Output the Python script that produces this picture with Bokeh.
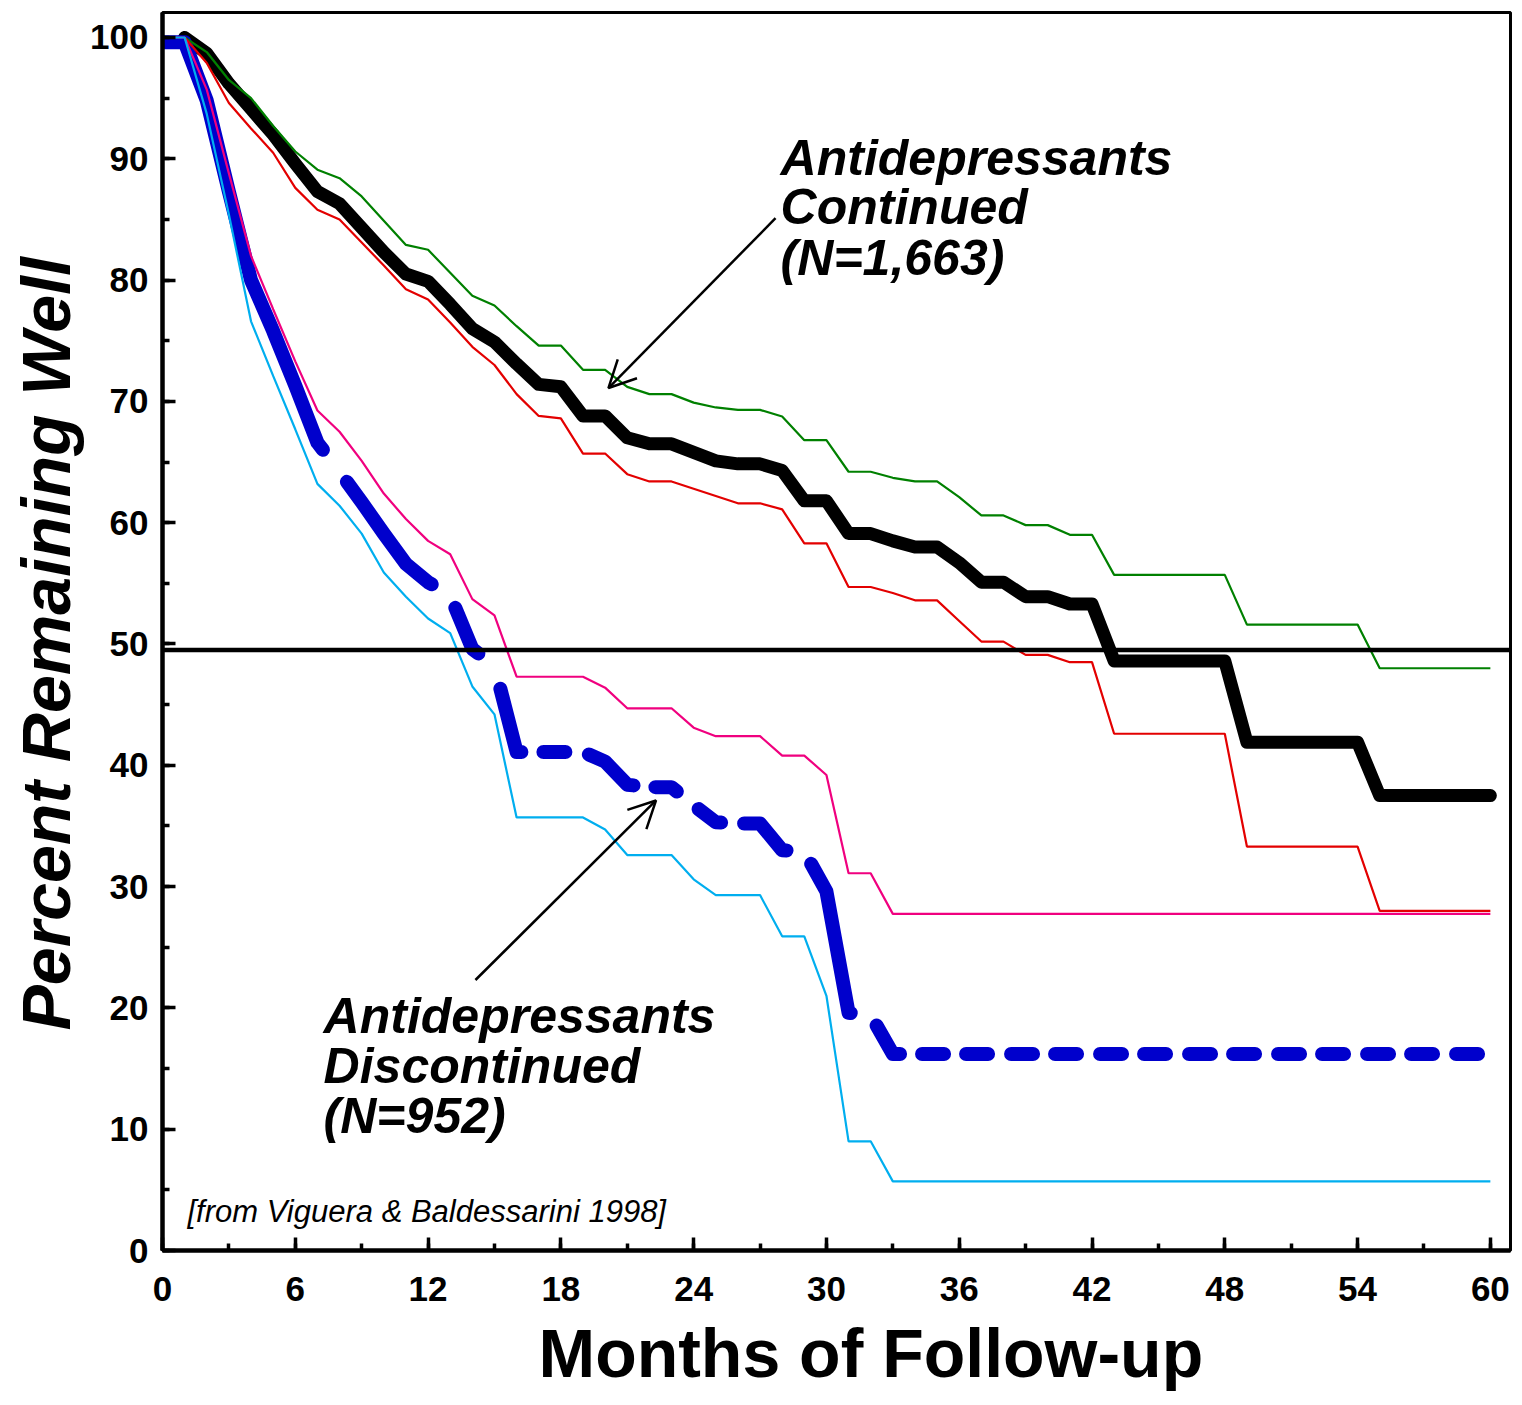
from bokeh.plotting import figure
from bokeh.models import Range1d, SingleIntervalTicker, Label, Span, Arrow, OpenHead, Title
from bokeh.embed import file_html
from bokeh.resources import INLINE

# ---------------- data ----------------
months_cont = list(range(1, 61))
months_disc = list(range(0, 61))
x_ticks_interval = 6
y_ticks_interval = 10
median_level = 49.5

cont_mean = [100, 98.7, 96.2, 94.1, 92.0, 89.6, 87.3, 86.3, 84.3, 82.3,
             80.5, 79.9, 78.0, 76.0, 74.9, 73.1, 71.4, 71.2, 68.8, 68.8,
             67.0, 66.5, 66.5, 65.8, 65.1, 64.85, 64.85, 64.3, 61.8, 61.8,
             59.1, 59.1, 58.5, 58.0, 58.0, 56.7, 55.1, 55.1, 53.9, 53.9,
             53.3, 53.3, 48.6, 48.6, 48.6, 48.6, 48.6, 48.6, 41.9, 41.9,
             41.9, 41.9, 41.9, 41.9, 37.5, 37.5, 37.5, 37.5, 37.5, 37.5]

cont_upper = [100, 98.8, 96.5, 95.0, 92.7, 90.6, 89.1, 88.4, 86.9, 84.9,
              82.9, 82.5, 80.6, 78.7, 77.9, 76.2, 74.6, 74.6, 72.6, 72.6,
              71.2, 70.6, 70.6, 69.9, 69.5, 69.3, 69.3, 68.75, 66.8, 66.8,
              64.2, 64.2, 63.7, 63.4, 63.4, 62.1, 60.6, 60.6, 59.8, 59.8,
              59.0, 59.0, 55.7, 55.7, 55.7, 55.7, 55.7, 55.7, 51.6, 51.6,
              51.6, 51.6, 51.6, 51.6, 48.0, 48.0, 48.0, 48.0, 48.0, 48.0]

cont_lower = [100, 97.9, 94.6, 92.5, 90.5, 87.6, 85.8, 85.0, 83.1, 81.2,
              79.25, 78.4, 76.5, 74.5, 73.0, 70.6, 68.8, 68.6, 65.7, 65.7,
              64.0, 63.4, 63.4, 62.8, 62.2, 61.6, 61.6, 61.1, 58.3, 58.3,
              54.7, 54.7, 54.2, 53.6, 53.6, 51.9, 50.2, 50.2, 49.1, 49.1,
              48.5, 48.5, 42.6, 42.6, 42.6, 42.6, 42.6, 42.6, 33.3, 33.3,
              33.3, 33.3, 33.3, 33.3, 28.0, 28.0, 28.0, 28.0, 28.0, 28.0]

disc_mean = [99.6, 99.6, 94.8, 87.3, 80.0, 75.8, 71.3, 66.6, 64.2, 61.7, 59.1,
             56.6, 55.1, 54.0, 49.6, 48.2, 41.1, 41.1, 41.1, 41.1, 40.3,
             38.4, 38.2, 38.2, 36.7, 35.3, 35.2, 35.2, 33.0, 32.9, 29.6,
             19.6, 19.4, 16.2, 16.2, 16.2, 16.2, 16.2, 16.2, 16.2, 16.2,
             16.2, 16.2, 16.2, 16.2, 16.2, 16.2, 16.2, 16.2, 16.2, 16.2,
             16.2, 16.2, 16.2, 16.2, 16.2, 16.2, 16.2, 16.2, 16.2, 16.2]

disc_upper = [100, 100, 95.7, 88.8, 82.0, 77.6, 73.3, 69.25, 67.5, 65.1, 62.4,
              60.3, 58.5, 57.4, 53.7, 52.35, 47.3, 47.3, 47.3, 47.3, 46.4,
              44.7, 44.7, 44.7, 43.1, 42.4, 42.4, 42.4, 40.8, 40.8, 39.2,
              31.1, 31.1, 27.75, 27.75, 27.75, 27.75, 27.75, 27.75, 27.75, 27.75,
              27.75, 27.75, 27.75, 27.75, 27.75, 27.75, 27.75, 27.75, 27.75, 27.75,
              27.75, 27.75, 27.75, 27.75, 27.75, 27.75, 27.75, 27.75, 27.75, 27.75]

disc_lower = [100, 100, 93.7, 85.4, 76.6, 72.1, 67.7, 63.2, 61.4, 59.1, 55.9,
              53.9, 52.1, 50.9, 46.5, 44.2, 35.7, 35.7, 35.7, 35.7, 34.7,
              32.6, 32.6, 32.6, 30.6, 29.3, 29.3, 29.3, 25.9, 25.9, 21.0,
              9.0, 9.0, 5.7, 5.7, 5.7, 5.7, 5.7, 5.7, 5.7, 5.7,
              5.7, 5.7, 5.7, 5.7, 5.7, 5.7, 5.7, 5.7, 5.7, 5.7,
              5.7, 5.7, 5.7, 5.7, 5.7, 5.7, 5.7, 5.7, 5.7, 5.7]

# ---------------- styling ----------------
FONT = "Liberation Sans"
BLUE_DASH = ("454 40 134 35 52 44 70 22 22 24 56 22 23 28 27 23 55 32 157 32 40 22 "
             "22 22 22 23 22 22 22 23 22 22 22 23 22 22 22 23 22 22 22 23 22 22 22 23 22 22 22 23")

p = figure(width=1514, height=1400,
           x_range=Range1d(0, 60.91), y_range=Range1d(0, 102.06),
           output_backend="svg", toolbar_location=None, title=None,
           min_border_left=162, min_border_right=4, min_border_top=12, min_border_bottom=150)
p.background_fill_color = "white"
p.border_fill_color = "white"
p.outline_line_color = "black"
p.outline_line_width = 3
p.xgrid.visible = False
p.ygrid.visible = False

p.xaxis.ticker = SingleIntervalTicker(interval=x_ticks_interval, num_minor_ticks=2)
p.yaxis.ticker = SingleIntervalTicker(interval=y_ticks_interval, num_minor_ticks=2)
for ax in (p.xaxis, p.yaxis):
    ax.axis_line_width = 4.5
    ax.axis_line_color = "black"
    ax.major_tick_in = 13
    ax.major_tick_out = 0
    ax.minor_tick_in = 7
    ax.minor_tick_out = 0
    ax.major_tick_line_width = 3.5
    ax.minor_tick_line_width = 3.5
    ax.major_tick_line_color = "black"
    ax.minor_tick_line_color = "black"
    ax.major_label_text_font = FONT
    ax.major_label_text_font_style = "bold"
    ax.major_label_text_font_size = "35px"
    ax.major_label_text_color = "black"
p.xaxis.major_label_standoff = 26
p.yaxis.major_label_standoff = 14

# axis titles as side titles (placed with an offset, as in the reference)
p.add_layout(Title(text="Months of Follow-up", align="left", offset=376, standoff=18,
                   text_font=FONT, text_font_size="68px", text_font_style="bold",
                   text_color="black"), "below")
p.add_layout(Title(text="Percent Remaining Well", align="left", offset=220, standoff=8,
                   text_font=FONT, text_font_size="68px", text_font_style="bold italic",
                   text_color="black"), "left")

# thick curves
p.line(months_cont, cont_mean, line_width=13, line_color="black",
       line_join="round", line_cap="round")
p.line(months_disc, disc_mean, line_width=14, line_color="#0000cc",
       line_dash=BLUE_DASH, line_join="round", line_cap="round")
# confidence limits
p.line(months_cont, cont_upper, line_width=2.2, line_color="#008000")
p.line(months_cont, cont_lower, line_width=2.2, line_color="#e30000")
p.line(months_disc, disc_upper, line_width=2.2, line_color="#f0007f")
p.line(months_disc, disc_lower, line_width=2.2, line_color="#00aeef")

# 50% reference line
p.add_layout(Span(location=median_level, dimension="width",
                  line_color="black", line_width=4.5))

# arrows
p.add_layout(Arrow(end=OpenHead(size=27, line_width=2.5, line_color="black"),
                   x_start=27.7, y_start=85.1, x_end=20.15, y_end=71.1,
                   line_width=2.5, line_color="black"))
p.add_layout(Arrow(end=OpenHead(size=27, line_width=2.5, line_color="black"),
                   x_start=14.14, y_start=22.3, x_end=22.3, y_end=37.1,
                   line_width=2.5, line_color="black"))

def txt(x, y, s, size, style):
    p.add_layout(Label(x=x, y=y, text=s, text_font=FONT, text_font_size=size,
                       text_font_style=style, text_align="left",
                       text_baseline="middle", text_color="black"))

for yy, s in ((90.1, "Antidepressants"), (86.0, "Continued"), (81.8, "(N=1,663)")):
    txt(27.93, yy, s, "50px", "bold italic")
for yy, s in ((19.3, "Antidepressants"), (15.25, "Discontinued"), (11.1, "(N=952)")):
    txt(7.28, yy, s, "50px", "bold italic")
txt(1.13, 3.22, "[from Viguera & Baldessarini 1998]", "31px", "italic")

open("out.html", "w").write(file_html(p, INLINE))
